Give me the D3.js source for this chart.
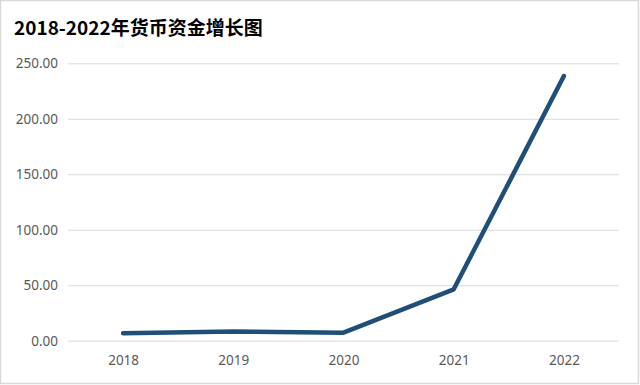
<!DOCTYPE html>
<html><head><meta charset="utf-8">
<script src="https://cdn.jsdelivr.net/npm/d3@7"></script>
<style>body{margin:0;background:#fff}svg{display:block}</style>
</head><body>
<script>
const years = ["2018","2019","2020","2021","2022"];
const values = [6.7, 8.4, 7.2, 46.3, 238.5];
const yTicks = [0, 50, 100, 150, 200, 250];
const title = "2018-2022年货币资金增长图";

(function(){
const W = 640, H = 385;
const svg = d3.select("body").append("svg").attr("width", W).attr("height", H);
svg.append("rect").attr("x",0.5).attr("y",0.5).attr("width",W-2).attr("height",H-2)
  .attr("fill","#fff").attr("stroke","#d9d9d9").attr("stroke-width",1.5);

const mL = 68, mR = 619, mT = 63.3, mB = 340.7;
const x = d3.scalePoint().domain(years).range([mL, mR]).padding(0.5);
const y = d3.scaleLinear().domain([0, 250]).range([mB, mT]);

svg.append("text").attr("x", 14).attr("y", 35).text(title)
  .attr("font-family", "'Noto Sans CJK SC','Noto Sans',sans-serif")
  .attr("font-weight", "bold").attr("font-size", 19).attr("fill", "#000");

const yAxis = svg.append("g").attr("transform", `translate(${mL},0)`)
  .call(d3.axisLeft(y).tickValues(yTicks).tickSize(-(mR-mL)).tickPadding(10).tickFormat(d3.format(".2f")));
yAxis.select(".domain").remove();
yAxis.selectAll("line").attr("stroke", "#d9d9d9").attr("stroke-width", 1);
yAxis.selectAll("text").attr("fill", "#595959").attr("font-size", 13.5)
  .attr("font-family", "'Noto Sans','DejaVu Sans',sans-serif");

const xAxis = svg.append("g").attr("transform", `translate(0,${mB})`)
  .call(d3.axisBottom(x).tickSize(0).tickPadding(15));
xAxis.select(".domain").remove();
xAxis.selectAll("text").attr("fill", "#595959").attr("font-size", 13.5)
  .attr("font-family", "'Noto Sans','DejaVu Sans',sans-serif");

const line = d3.line().x((d,i) => x(years[i])).y(d => y(d));
svg.append("path").datum(values).attr("d", line).attr("fill", "none")
  .attr("stroke", "#1f4e79").attr("stroke-width", 4.5)
  .attr("stroke-linecap", "round").attr("stroke-linejoin", "round");
})();
</script>
</body></html>
